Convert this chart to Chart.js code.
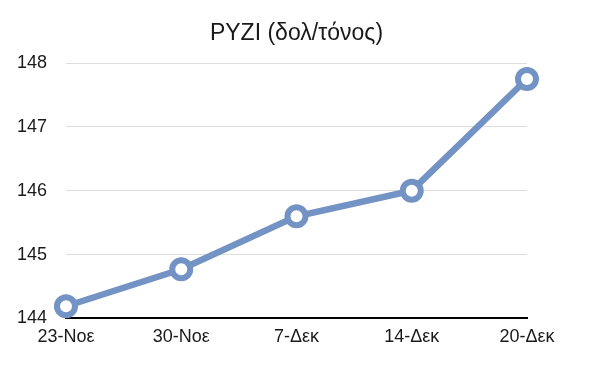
<!DOCTYPE html>
<html>
<head>
<meta charset="utf-8">
<script src="https://cdn.jsdelivr.net/npm/chart.js@4"></script>
<style>
  html, body { margin: 0; padding: 0; background: #fff; }
  #wrap { width: 609px; height: 367px; }
</style>
</head>
<body>
<div id="wrap"><canvas id="rice-chart"></canvas></div>
<script>
const dates = ['23-Νοε', '30-Νοε', '7-Δεκ', '14-Δεκ', '20-Δεκ']
const prices = [144.19, 144.77, 145.6, 146.0, 147.75]
const yMin = 144
const yMax = 148
const chartTitle = 'ΡΥΖΙ (δολ/τόνος)'

const lineColor = 'rgb(115, 147, 196)'
const textColor = '#1a1a1a'

// title is centred over the plot area, not the whole canvas
const centeredTitle = {
  id: 'centeredTitle',
  afterDraw(chart) {
    const area = chart.chartArea
    const c = chart.ctx
    c.save()
    c.fillStyle = textColor
    c.font = '23px "Liberation Sans", Arial, sans-serif'
    c.textAlign = 'center'
    c.textBaseline = 'alphabetic'
    c.fillText(chartTitle, (area.left + area.right) / 2, 40)
    c.restore()
  }
}

let ctx = document.getElementById('rice-chart').getContext('2d')

let chart = new Chart(ctx, {
  type: 'line',
  data: {
    labels: dates,
    datasets: [{
      label: 'ΡΥΖΙ',
      data: prices,
      borderColor: lineColor,
      backgroundColor: '#fff',
      borderWidth: 6.5,
      pointRadius: 9,
      pointHoverRadius: 9,
      pointBorderWidth: 6,
      pointBackgroundColor: '#fff',
      pointBorderColor: lineColor,
      tension: 0
    }]
  },
  plugins: [centeredTitle],
  options: {
    responsive: true,
    maintainAspectRatio: false,
    animation: false,
    layout: { padding: { top: 63, left: 0, right: 82, bottom: 11 } },
    plugins: {
      legend: { display: false },
      tooltip: { enabled: false },
      title: { display: false }
    },
    scales: {
      x: {
        offset: false,
        grid: { display: false, drawTicks: false },
        border: { display: true, color: '#000', width: 2 },
        ticks: {
          color: textColor,
          padding: 8,
          maxRotation: 0,
          font: { family: 'Liberation Sans', size: 18 }
        }
      },
      y: {
        min: yMin,
        max: yMax,
        grid: { color: '#dedede', lineWidth: 1, drawTicks: false },
        border: { display: false },
        afterFit: (scale) => { scale.width = 66 },
        ticks: {
          stepSize: 1,
          color: textColor,
          padding: 19,
          font: { family: 'Liberation Sans', size: 18 }
        }
      }
    }
  }
})
</script>
</body>
</html>
